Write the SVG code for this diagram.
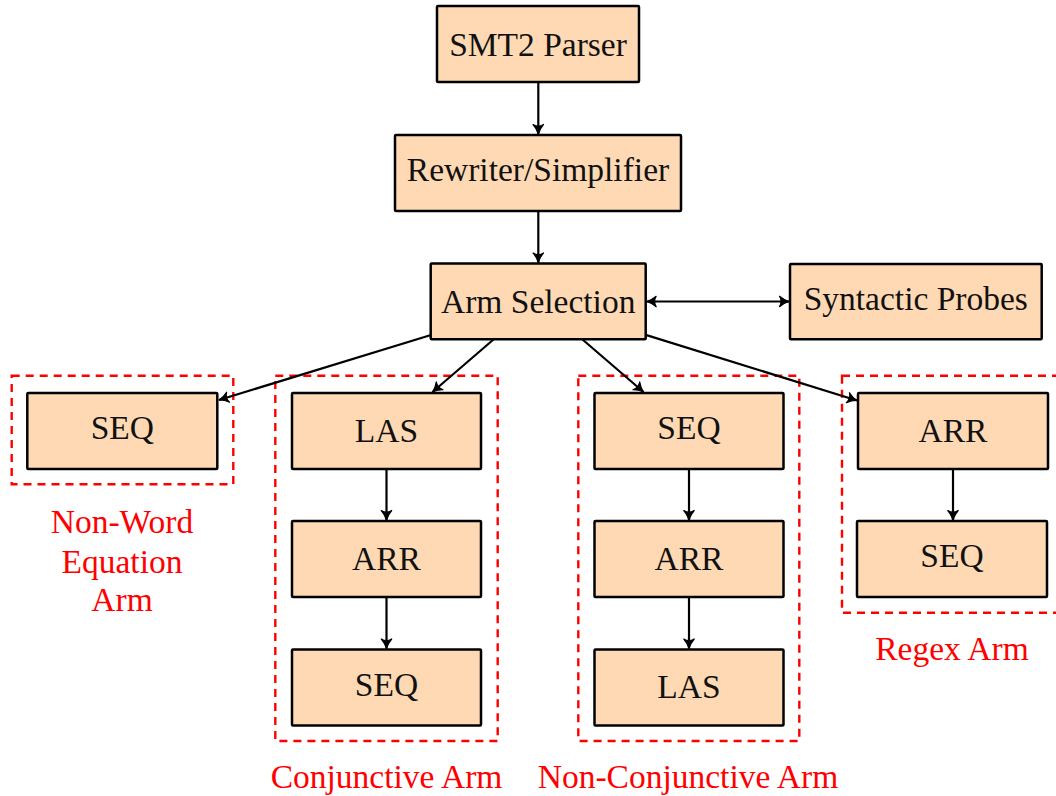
<svg xmlns="http://www.w3.org/2000/svg" width="1056" height="796" viewBox="0 0 1056 796">
  <style>
    .box { fill: #FFD9B3; stroke: #000; stroke-width: 2.5; }
    .lbl { font-family: "Liberation Serif", "DejaVu Serif", serif; font-size: 33.5px; fill: #111; text-anchor: middle; }
    .arm { fill: none; stroke: #FF0000; stroke-width: 2.4; stroke-dasharray: 8 6; }
    .armlbl { font-family: "Liberation Serif", "DejaVu Serif", serif; font-size: 33.5px; fill: #FF0000; text-anchor: middle; }
    .edge { fill: none; stroke: #000; stroke-width: 2.2; }
  </style>
  <defs>
    <!-- curved-barb arrow tip -->
    <marker id="tip" viewBox="-12 -7 14 14" refX="0" refY="0" markerWidth="14" markerHeight="14" markerUnits="userSpaceOnUse" orient="auto-start-reverse">
      <path d="M-9.5,-5.2 C-6.5,-2.6 -3,-0.8 0,0 C-3,0.8 -6.5,2.6 -9.5,5.2 C-7.5,2 -7.5,-2 -9.5,-5.2 Z" fill="#000" stroke="#000" stroke-width="1.2" stroke-linejoin="round"/>
    </marker>
  </defs>

  <!-- dashed arm regions -->
  <g id="regions">
    <rect class="arm" x="11.7" y="375.7" width="221.6" height="108.6"/>
    <rect class="arm" x="275.3" y="375.7" width="222.4" height="365.3"/>
    <rect class="arm" x="578.3" y="375.7" width="221" height="365.3"/>
    <rect class="arm" x="842" y="375.7" width="222" height="237"/>
  </g>

  <!-- region captions -->
  <g id="captions">
    <text class="armlbl" x="122" y="533.3">Non-Word</text>
    <text class="armlbl" x="122" y="573">Equation</text>
    <text class="armlbl" x="122" y="610.7">Arm</text>
    <text class="armlbl" x="386.5" y="788.3">Conjunctive Arm</text>
    <text class="armlbl" x="688" y="788.3">Non-Conjunctive Arm</text>
    <text class="armlbl" x="952" y="660">Regex Arm</text>
  </g>

  <!-- connectors -->
  <g id="connectors">
    <line class="edge" x1="538.3" y1="82" x2="538.3" y2="134" marker-end="url(#tip)"/>
    <line class="edge" x1="538.3" y1="211" x2="538.3" y2="262.5" marker-end="url(#tip)"/>
    <line class="edge" x1="646.7" y1="301.5" x2="789" y2="301.5" marker-start="url(#tip)" marker-end="url(#tip)"/>
    <line class="edge" x1="431" y1="335" x2="219" y2="400" marker-end="url(#tip)"/>
    <line class="edge" x1="493.5" y1="339.5" x2="432.5" y2="392" marker-end="url(#tip)"/>
    <line class="edge" x1="582.5" y1="339.5" x2="643.5" y2="392" marker-end="url(#tip)"/>
    <line class="edge" x1="645.7" y1="334.9" x2="857" y2="400.5" marker-end="url(#tip)"/>
    <line class="edge" x1="386.5" y1="469" x2="386.5" y2="520" marker-end="url(#tip)"/>
    <line class="edge" x1="386.5" y1="597" x2="386.5" y2="648.5" marker-end="url(#tip)"/>
    <line class="edge" x1="689" y1="469" x2="689" y2="520" marker-end="url(#tip)"/>
    <line class="edge" x1="689" y1="597" x2="689" y2="648.5" marker-end="url(#tip)"/>
    <line class="edge" x1="953" y1="469" x2="953" y2="520" marker-end="url(#tip)"/>
  </g>

  <g id="parser">
    <rect class="box" x="437" y="6" width="202" height="76" rx="1"/>
    <text class="lbl" x="538" y="56">SMT2 Parser</text>
  </g>
  <g id="rewriter">
    <rect class="box" x="395" y="135" width="286" height="76" rx="1"/>
    <text class="lbl" x="538" y="181">Rewriter/Simplifier</text>
  </g>
  <g id="arm-selection">
    <rect class="box" x="430.7" y="263.5" width="215" height="75.8" rx="1"/>
    <text class="lbl" x="538.2" y="312.7">Arm Selection</text>
  </g>
  <g id="syntactic-probes">
    <rect class="box" x="790" y="264" width="251.7" height="75.3" rx="1"/>
    <text class="lbl" x="915.8" y="310">Syntactic Probes</text>
  </g>

  <g id="nw-seq">
    <rect class="box" x="27.3" y="393" width="190" height="76" rx="1"/>
    <text class="lbl" x="122.3" y="439">SEQ</text>
  </g>

  <g id="conj-las">
    <rect class="box" x="292" y="393" width="189" height="76" rx="1"/>
    <text class="lbl" x="386.5" y="442.3">LAS</text>
  </g>
  <g id="conj-arr">
    <rect class="box" x="292" y="521" width="189" height="76" rx="1"/>
    <text class="lbl" x="386.5" y="570">ARR</text>
  </g>
  <g id="conj-seq">
    <rect class="box" x="292" y="649.5" width="189" height="76" rx="1"/>
    <text class="lbl" x="386.5" y="696">SEQ</text>
  </g>

  <g id="nonconj-seq">
    <rect class="box" x="594.5" y="393" width="189" height="76" rx="1"/>
    <text class="lbl" x="689" y="439">SEQ</text>
  </g>
  <g id="nonconj-arr">
    <rect class="box" x="594.5" y="521" width="189" height="76" rx="1"/>
    <text class="lbl" x="689" y="570">ARR</text>
  </g>
  <g id="nonconj-las">
    <rect class="box" x="594.5" y="649.5" width="189" height="76" rx="1"/>
    <text class="lbl" x="689" y="698.3">LAS</text>
  </g>

  <g id="regex-arr">
    <rect class="box" x="858" y="393" width="190" height="76" rx="1"/>
    <text class="lbl" x="953" y="441.7">ARR</text>
  </g>
  <g id="regex-seq">
    <rect class="box" x="857" y="521" width="190" height="76" rx="1"/>
    <text class="lbl" x="952" y="567.3">SEQ</text>
  </g>
</svg>
